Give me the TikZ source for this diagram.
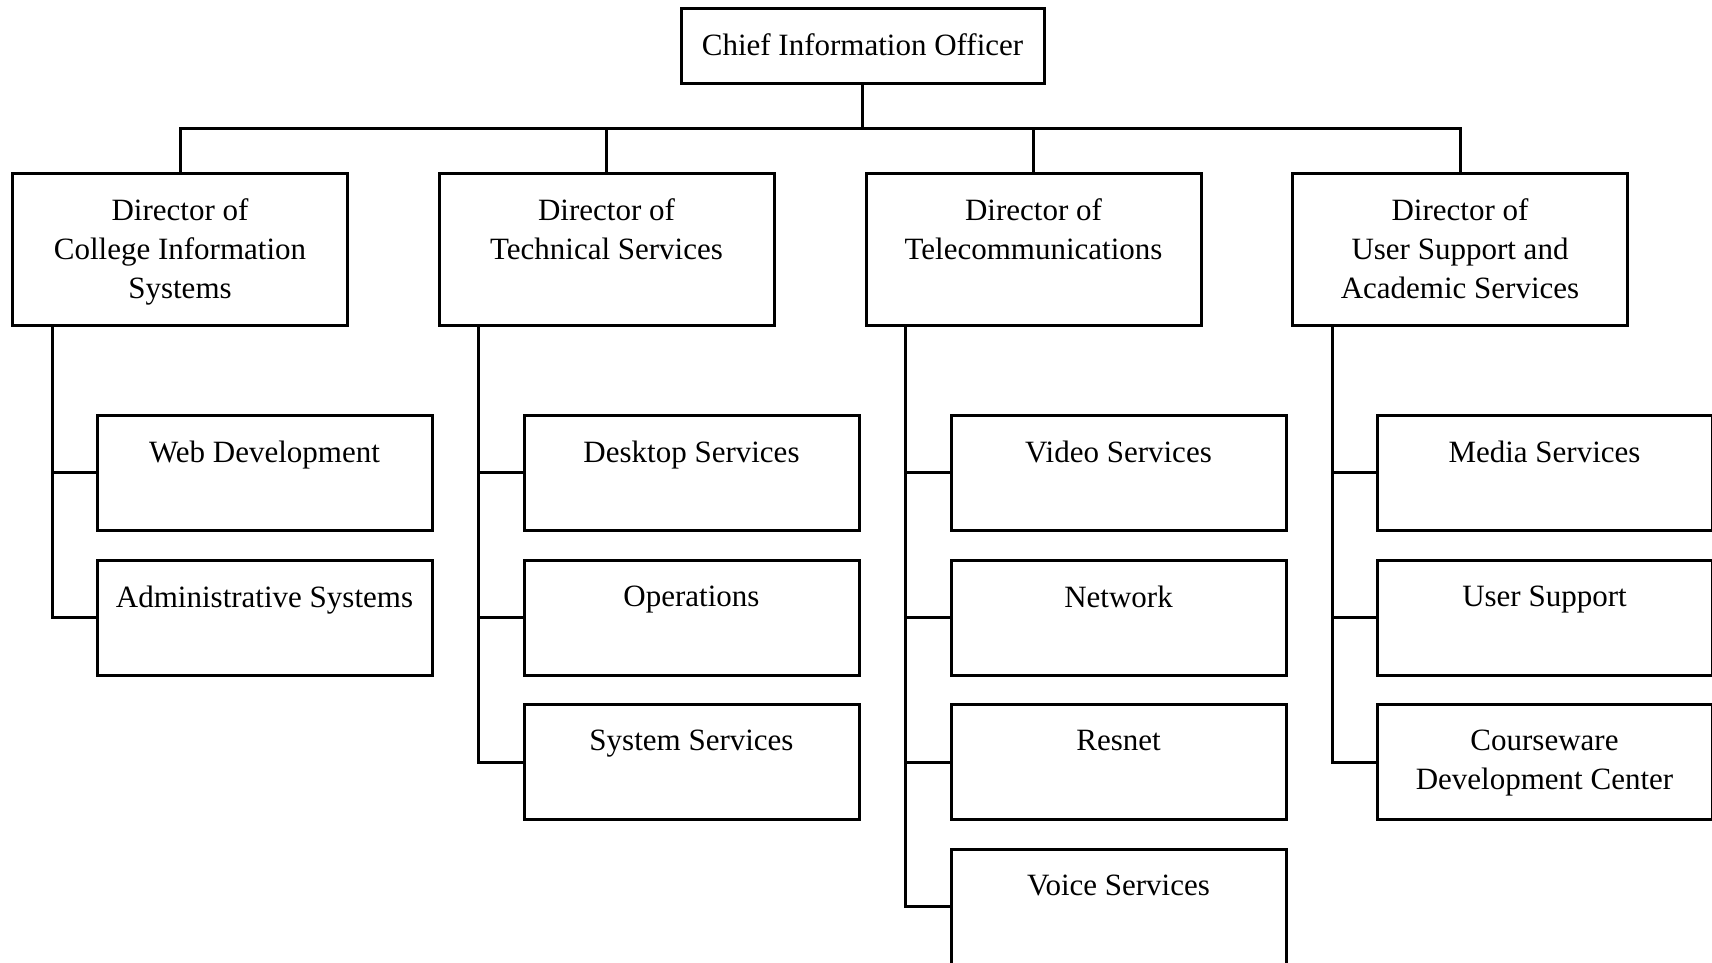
\documentclass[tikz,border=0pt]{standalone}
\usepackage{fontspec}
\setmainfont{Liberation Serif}

\begin{document}
\begin{tikzpicture}[x=1pt,y=-1pt,
		font=\fontsize{31}{39}\selectfont,
		unitbox/.style={draw,line width=3pt,inner sep=0pt,minimum width=335pt},
		headbox/.style={unitbox,minimum height=152pt},
		subbox/.style={unitbox,minimum height=115pt},
		txt/.style={anchor=north,yshift=-27pt,align=center,inner sep=0pt},
		wire/.style={line width=3pt}]
		\useasboundingbox (0,0) rectangle (1712,962);
		\clip (0,0) rectangle (1712,962);
		
		\node[unitbox,minimum width=363pt,minimum height=75pt,label={[txt]north:Chief Information Officer}] (cio) at (862.5,45.5) {};
		
		\node[headbox,label={[txt]north:{Director of\\College Information\\Systems}}] (cis) at (180,249) {};
		\node[headbox,label={[txt]north:{Director of\\Technical Services}}] (tech) at (606.5,249) {};
		\node[headbox,label={[txt]north:{Director of\\Telecommunications}}] (tele) at (1033.5,249) {};
		\node[headbox,label={[txt]north:{Director of\\User Support and\\Academic Services}}] (user) at (1460,249) {};
		
		\node[subbox,label={[txt]north:Web Development}] (web) at (264.5,472.5) {};
		\node[subbox,label={[txt]north:Administrative Systems}] (admin) at (264.5,617.5) {};
		
		\node[subbox,label={[txt]north:Desktop Services}] (desk) at (691.5,472.5) {};
		\node[subbox,label={[txt]north:Operations}] (oper) at (691.5,617.5) {};
		\node[subbox,label={[txt]north:System Services}] (sys) at (691.5,762) {};
		
		\node[subbox,label={[txt]north:Video Services}] (video) at (1118.5,472.5) {};
		\node[subbox,label={[txt]north:Network}] (net) at (1118.5,617.5) {};
		\node[subbox,label={[txt]north:Resnet}] (res) at (1118.5,762) {};
		\node[subbox,label={[txt]north:Voice Services}] (voice) at (1118.5,906.5) {};
		
		\node[subbox,label={[txt]north:Media Services}] (media) at (1544.5,472.5) {};
		\node[subbox,label={[txt]north:User Support}] (supp) at (1544.5,617.5) {};
		\node[subbox,label={[txt]north:{Courseware\\Development Center}}] (cdc) at (1544.5,762) {};
		
		% top level
		\draw[wire] (cio.south) -- ++(0,44) -| (cis.north);
		\draw[wire] (cio.south) -- ++(0,44) -| (tech.north);
		\draw[wire] (cio.south) -- ++(0,44) -| (tele.north);
		\draw[wire] (cio.south) -- ++(0,44) -| (user.north);
		
		% units
		\draw[wire] ([xshift=41pt]cis.south west) |- (web.west);
		\draw[wire] ([xshift=41pt]cis.south west) |- (admin.west);
		
		\draw[wire] ([xshift=41pt]tech.south west) |- (desk.west);
		\draw[wire] ([xshift=41pt]tech.south west) |- (oper.west);
		\draw[wire] ([xshift=41pt]tech.south west) |- (sys.west);
		
		\draw[wire] ([xshift=41pt]tele.south west) |- (video.west);
		\draw[wire] ([xshift=41pt]tele.south west) |- (net.west);
		\draw[wire] ([xshift=41pt]tele.south west) |- (res.west);
		\draw[wire] ([xshift=41pt]tele.south west) |- (voice.west);
		
		\draw[wire] ([xshift=41pt]user.south west) |- (media.west);
		\draw[wire] ([xshift=41pt]user.south west) |- (supp.west);
		\draw[wire] ([xshift=41pt]user.south west) |- (cdc.west);
\end{tikzpicture}
\end{document}
